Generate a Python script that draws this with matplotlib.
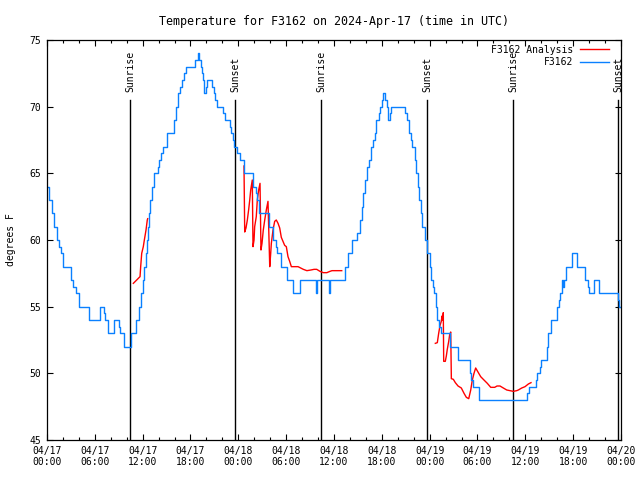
import numpy as np
import pandas as pd
import matplotlib
matplotlib.use("Agg")
import matplotlib.pyplot as plt
import matplotlib.dates as mdates

plt.rcParams["font.family"] = ["DejaVu Sans Mono"]
plt.rcParams["font.size"] = 7

start = pd.Timestamp("2024-04-17 00:00")

# observed temperature (hours since start, degrees F), value holds until next point
obs_hours = [0.0, 0.3, 0.6, 0.9, 1.2, 1.5, 1.7, 2.0, 3.0, 3.3, 3.6, 4.0, 5.3, 6.7, 7.1, 7.3, 7.6,
             8.4, 9.0, 9.2, 9.7, 10.5, 11.2, 11.5, 11.8, 12.0, 12.2, 12.4, 12.5, 12.65, 12.75,
             12.9, 13.2, 13.4, 13.9, 14.1, 14.3, 14.6, 15.0, 15.9, 16.2, 16.4, 16.7, 16.9, 17.2,
             17.4, 18.6, 18.9, 19.1, 19.3, 19.4, 19.6, 19.7, 20.0, 20.1, 20.7, 20.9, 21.1, 21.3,
             22.1, 22.3, 22.9, 23.1, 23.3, 23.5, 23.8, 24.2, 24.7, 25.9, 26.2, 26.4, 26.6, 27.9,
             28.3, 28.7, 28.9, 29.4, 30.1, 30.8, 31.7, 33.7, 33.85, 35.4, 35.55, 37.4, 37.7,
             38.3, 38.9, 39.2, 39.5, 39.7, 39.9, 40.2, 40.4, 40.6, 40.9, 41.1, 41.3, 41.6, 41.8,
             42.0, 42.2, 42.4, 42.6, 42.8, 43.0, 43.2, 44.9, 45.2, 45.4, 45.6, 45.8, 46.1, 46.3,
             46.5, 46.7, 46.9, 47.1, 47.4, 47.7, 48.0, 48.2, 48.4, 48.6, 48.8, 48.9, 49.2, 49.4,
             50.6, 51.5, 53.0, 53.2, 53.4, 54.2, 60.2, 60.4, 61.3, 61.5, 61.8, 62.0, 62.7, 62.9,
             63.2, 64.0, 64.2, 64.4, 64.6, 64.7, 64.8, 65.1, 65.9, 66.5, 67.5, 67.8, 68.0, 68.6,
             69.2, 71.6, 71.8, 72.0]
obs_temp = [64, 63, 62, 61, 60, 59.5, 59, 58, 57, 56.5, 56, 55, 54, 55, 54.5, 54, 53,
            54, 53.5, 53, 52, 53, 54, 55, 56, 57, 58, 59, 60, 61, 62,
            63, 64, 65, 65.5, 66, 66.5, 67, 68, 69, 70, 71, 71.5, 72, 72.5,
            73, 73.5, 74, 73.5, 73, 72.5, 72, 71, 71.5, 72, 71.5, 71, 70.5, 70,
            69.5, 69, 68.5, 68, 67.5, 67, 66.5, 66, 65, 64, 63.5, 63, 62, 61,
            60, 59.5, 59, 58, 57, 56, 57, 56, 57, 56, 57, 58, 59,
            60, 60.5, 61.5, 62.5, 63.5, 64.5, 65.5, 66, 67, 67.5, 68, 69, 69.5, 70,
            70.5, 71, 70.5, 70, 69, 69.5, 70, 69.5, 69, 68, 67.5, 67, 66, 65,
            64, 63, 62, 61, 60, 59, 58, 57, 56.5, 56, 55, 54, 53.5, 53,
            52, 51, 50, 49.5, 49, 48, 48.5, 49, 49.5, 50, 50.5, 51, 52, 53,
            54, 55, 55.5, 56, 57, 56.5, 57, 58, 59, 58, 57, 56.5, 56, 57,
            56, 55.5, 55, 55]

# analysis series, nan marks gaps
ana_hours = [10.83, 11.25, 11.58, 11.67, 11.75, 11.88, 12.08, 12.21, 12.42, 12.58, 12.63, np.nan,
             24.71, 24.80, 24.96, 25.13, 25.30, 25.43, 25.55, 25.75, 25.84, 25.97, 26.05, 26.25,
             26.38, 26.55, 26.72, 26.84, 26.97, 27.13, 27.31, 27.51, 27.72, 27.94, 28.06, 28.14,
             28.35, 28.56, 28.76, 28.98, 29.19, 29.39, 29.81, 30.02, 30.23, 30.44, 30.65, 31.49,
             32.15, 32.6, 33.1, 33.5, 33.83, 34.24, 34.66, 35.1, 35.5, 35.75, 36.97, np.nan,
             48.71, 48.96, 49.13, 49.30, 49.46, 49.55, 49.63, 49.71, 49.76, 49.96, 50.09, 50.21,
             50.39, 50.51, 50.64, 50.72, 50.97, 51.22, 51.56, 51.97, 52.31, 52.60, 52.90, 53.15,
             53.35, 53.56, 53.77, 54.06, 54.40, 54.81, 55.23, 55.66, 56.16, 56.45, 56.82, 57.24,
             57.67, 58.08, 58.49, 58.92, 59.12, 59.55, 59.96, 60.38, 60.71]
ana_temp = [56.75, 57.0, 57.2, 57.25, 58.0, 59.0, 59.5, 60.0, 60.75, 61.5, 61.6, np.nan,
            65.55, 60.6, 60.9, 61.5, 62.3, 63.0, 63.75, 64.5, 59.5, 60.0, 61.0, 61.75,
            63.0, 63.75, 64.25, 59.25, 59.75, 60.75, 61.5, 62.25, 62.9, 58.0, 59.0, 59.75,
            60.75, 61.4, 61.5, 61.25, 60.9, 60.2, 59.6, 59.5, 58.75, 58.4, 58.0, 58.0,
            57.8, 57.7, 57.75, 57.8, 57.8, 57.65, 57.55, 57.55, 57.65, 57.7, 57.7, np.nan,
            52.25, 52.3, 53.0, 53.6, 53.9, 54.3, 54.0, 54.55, 50.9, 50.9, 51.3, 51.8,
            52.4, 52.9, 53.1, 49.6, 49.55, 49.3, 49.05, 48.9, 48.5, 48.2, 48.1, 48.75,
            49.5, 50.0, 50.4, 50.1, 49.75, 49.5, 49.25, 48.95, 48.95, 49.05, 49.05, 48.9,
            48.75, 48.7, 48.65, 48.7, 48.75, 48.9, 49.0, 49.2, 49.3]

sunrise_hours = [10.41, 34.37, 58.49]
sunset_hours = [23.62, 47.70, 71.67]


def to_time(hours):
    return start + pd.to_timedelta(np.asarray(hours, dtype=float), unit="h")


fig = plt.figure(figsize=(6.4, 4.8), dpi=100)
ax = fig.add_axes([47 / 640, 40 / 480, 574 / 640, 400 / 480])

# sunrise / sunset markers
for name, hrs in (("Sunrise", sunrise_hours), ("Sunset", sunset_hours)):
    for t in to_time(hrs):
        ax.plot([t, t], [45, 70.5], color="black", lw=1.0)
        ax.text(t, 71.1, name, rotation=90, ha="center", va="bottom")

ax.plot(to_time(ana_hours), ana_temp, color="#ff0000", lw=1.0, label="F3162 Analysis")
ax.plot(to_time(obs_hours), obs_temp, color="#0a80ff", lw=1.0, drawstyle="steps-post",
        label="F3162")

ax.set_xlim(start, start + pd.Timedelta(hours=72))
ax.set_ylim(45, 75)
ax.set_yticks(range(45, 76, 5))
ax.xaxis.set_major_locator(mdates.HourLocator(byhour=[0, 6, 12, 18]))
ax.xaxis.set_minor_locator(mdates.HourLocator(interval=2))
ax.xaxis.set_major_formatter(mdates.DateFormatter("%m/%d\n%H:%M"))
ax.tick_params(which="both", direction="in", top=True, right=True, width=0.8)
ax.tick_params(which="major", length=4, pad=4)
ax.tick_params(which="minor", length=2.5)

for s in ax.spines.values():
    s.set_linewidth(0.9)

ax.set_title("Temperature for F3162 on 2024-Apr-17 (time in UTC)", pad=11)
ax.set_ylabel("degrees F", labelpad=10)

ax.legend(loc="upper right", bbox_to_anchor=(1 - 7 / 574, 1), frameon=False,
          markerfirst=False, handlelength=3.0, borderaxespad=0.1, labelspacing=0.25,
          handletextpad=0.7)

fig.savefig("out.png", dpi=100)
